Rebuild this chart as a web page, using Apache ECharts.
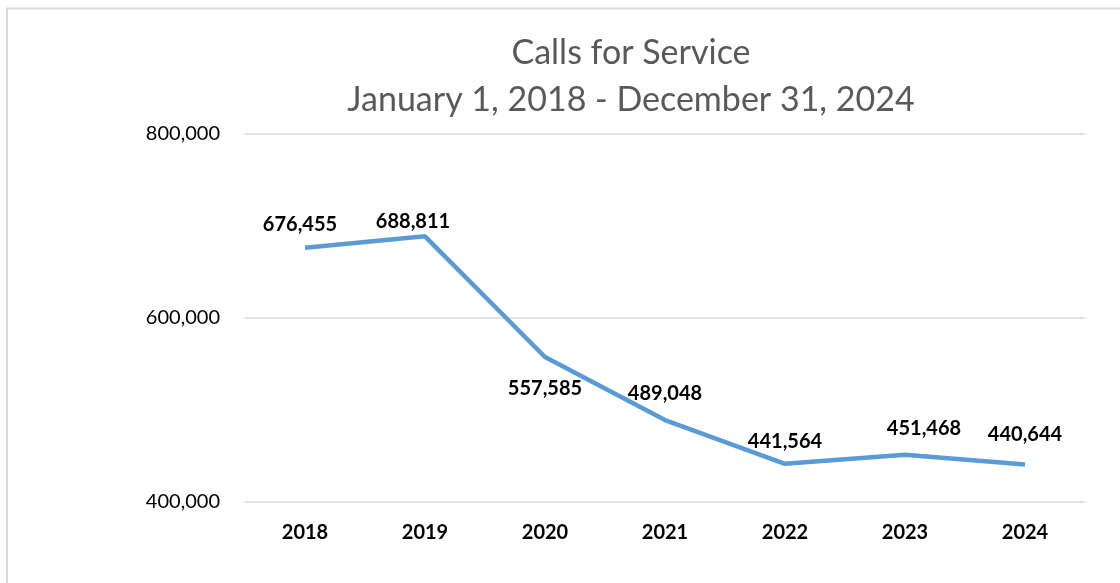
<!DOCTYPE html>
<html>
<head>
<meta charset="utf-8">
<script src="https://cdn.jsdelivr.net/npm/echarts@6/dist/echarts.min.js"></script>
<style>
  html, body { margin: 0; padding: 0; background: #fff; }
  #chart { width: 1120px; height: 583px; }
</style>
</head>
<body>
<div id="chart"></div>
<script>
// data
var years = ['2018', '2019', '2020', '2021', '2022', '2023', '2024']
var calls = [676455, 688811, 557585, 489048, 441564, 451468, 440644]
var yTicks = [400000, 600000, 800000]
var titleLines = ['Calls for Service', 'January 1, 2018 - December 31, 2024']

// where each value label sits relative to its point
var labelPlace = [
  { position: 'top', offset: [-5, 2] },
  { position: 'top', offset: [-12, 10] },
  { position: 'bottom', offset: [0, 7] },
  { position: 'top', offset: [0, -2] },
  { position: 'top', offset: [0, 3] },
  { position: 'top', offset: [19, -1] },
  { position: 'top', offset: [0, -5] }
]

var fmt = function (v) {
  return String(v).replace(/\B(?=(\d{3})+(?!\d))/g, ',')
}

var font = 'Lato, "Open Sans", sans-serif'
var chart = echarts.init(document.getElementById('chart'))

chart.setOption({
  animation: false,
  textStyle: { fontFamily: font },
  graphic: [{
    type: 'polyline',
    shape: { points: [[7, 600], [7, 8.5], [1130, 8.5]] },
    style: { stroke: '#d9d9d9', lineWidth: 2, fill: null },
    silent: true
  }, {
    type: 'text',
    x: 631, y: 53,
    style: { text: titleLines[0], align: 'center', verticalAlign: 'middle',
      fill: '#595959', font: '34px ' + font }
  }, {
    type: 'text',
    x: 631, y: 100,
    style: { text: titleLines[1], align: 'center', verticalAlign: 'middle',
      fill: '#595959', font: '34px ' + font }
  }],
  grid: { left: 245, right: 35, top: 134, bottom: 81 },
  xAxis: {
    type: 'category',
    data: years,
    boundaryGap: true,
    axisLine: { show: false },
    axisTick: { show: false },
    axisLabel: {
      color: '#000',
      fontSize: 20,
      fontWeight: 'bold',
      margin: 21
    }
  },
  yAxis: {
    type: 'value',
    min: yTicks[0],
    max: yTicks[yTicks.length - 1],
    interval: 200000,
    axisLine: { show: false },
    axisTick: { show: false },
    splitLine: { lineStyle: { color: '#d9d9d9', width: 1.5 } },
    axisLabel: {
      color: '#000',
      fontSize: 20,
      margin: 25,
      formatter: fmt
    }
  },
  series: [{
    type: 'line',
    data: calls.map(function (v, i) {
      return {
        value: v,
        label: { show: true, position: labelPlace[i].position }
      }
    }),
    symbol: 'circle',
    symbolSize: 2,
    showSymbol: true,
    lineStyle: { color: '#5b9bd5', width: 4.5 },
    itemStyle: { color: 'rgba(0,0,0,0)', borderWidth: 0 },
    label: {
      show: true,
      color: '#000',
      fontSize: 20,
      fontWeight: 'bold',
      distance: 14,
      formatter: function (p) { return fmt(p.value) }
    },
    labelLayout: function (p) {
      var o = labelPlace[p.dataIndex].offset
      return { dx: o[0], dy: o[1], hideOverlap: false }
    }
  }]
})
</script>
</body>
</html>
